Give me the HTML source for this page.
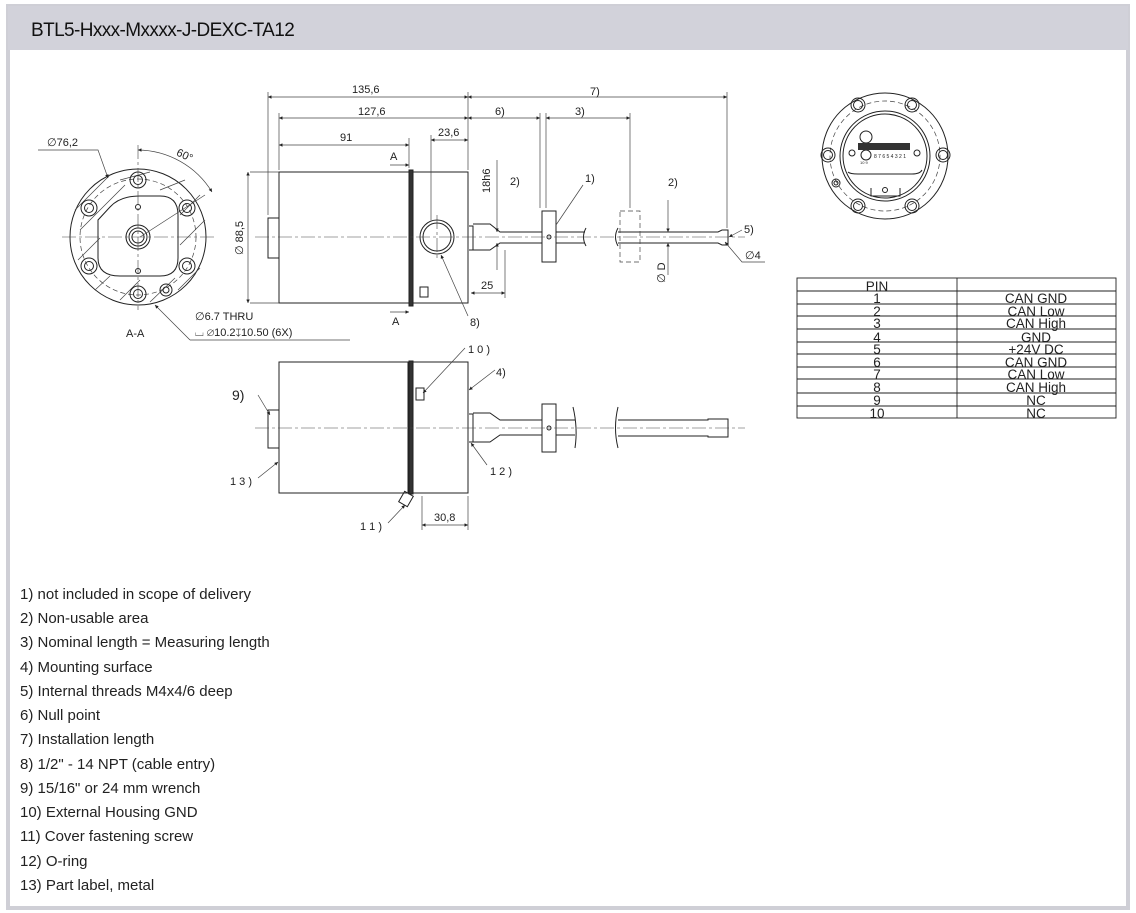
<!DOCTYPE html>
<html><head><meta charset="utf-8"><style>
html,body{margin:0;padding:0;background:#fff;width:1136px;height:913px;overflow:hidden}
svg{display:block}
text{font-family:"Liberation Sans",sans-serif;fill:#222}
.l{stroke:#222;stroke-width:1;fill:none}
.t{stroke:#444;stroke-width:0.7;fill:none}
.c{stroke:#444;stroke-width:0.6;fill:none;stroke-dasharray:14 3 3 3}
.d{stroke:#444;stroke-width:0.7;fill:none;stroke-dasharray:5 3}
.leg{font-size:15px;fill:#444}
.s{font-size:11px}
.tb{font-size:13.5px;fill:#333}
</style></head><body>
<svg width="1136" height="913" viewBox="0 0 1136 913">
<defs>
<marker id="a" viewBox="0 0 10 10" refX="10" refY="5" markerWidth="9" markerHeight="5" orient="auto-start-reverse"><path d="M0,0L10,5L0,10z" fill="#222"/></marker>
</defs>
<rect x="8" y="6" width="1120" height="902" fill="#fff" stroke="#cfcfd6" stroke-width="4"/>
<rect x="8" y="6" width="1120" height="44" fill="#d2d2da"/>
<text x="31" y="36" style="font-size:19px;letter-spacing:-0.6px;fill:#111">BTL5-Hxxx-Mxxxx-J-DEXC-TA12</text>

<g>
<circle cx="138" cy="237" r="68" class="l"/>
<circle cx="138" cy="237" r="58" class="d"/>
<path d="M110,207 Q120,196 140,196 L160,196 Q178,196 178,215 L178,258 Q178,276 160,276 L120,276 Q98,276 98,258 L98,220 Z" class="l"/>
<g class="t">
<line x1="75" y1="210" x2="110" y2="175"/><line x1="80" y1="230" x2="125" y2="185"/><line x1="78" y1="260" x2="100" y2="238"/>
<line x1="95" y1="290" x2="110" y2="276"/><line x1="120" y1="300" x2="140" y2="280"/><line x1="150" y1="302" x2="175" y2="278"/>
<line x1="178" y1="290" x2="200" y2="268"/><line x1="180" y1="245" x2="205" y2="220"/><line x1="180" y1="215" x2="200" y2="195"/>
<line x1="160" y1="190" x2="185" y2="180"/><line x1="120" y1="180" x2="150" y2="172"/>
</g>
<g class="l">
<circle cx="138" cy="180" r="8"/><circle cx="138" cy="180" r="4.5"/>
<circle cx="138" cy="294" r="8"/><circle cx="138" cy="294" r="4.5"/>
<circle cx="89" cy="208" r="8"/><circle cx="89" cy="208" r="4.5"/>
<circle cx="187" cy="208" r="8"/><circle cx="187" cy="208" r="4.5"/>
<circle cx="89" cy="266" r="8"/><circle cx="89" cy="266" r="4.5"/>
<circle cx="187" cy="266" r="8"/><circle cx="187" cy="266" r="4.5"/>
<circle cx="138" cy="237" r="12"/><circle cx="138" cy="237" r="9"/><circle cx="138" cy="237" r="6"/>
<circle cx="138" cy="207" r="2.5"/><circle cx="138" cy="271" r="2.5"/>
<circle cx="166" cy="290" r="6"/><circle cx="166" cy="290" r="3"/>
</g>
<line x1="62" y1="237" x2="215" y2="237" class="c"/>
<line x1="138" y1="145" x2="138" y2="310" class="c"/>
<line x1="140" y1="237" x2="205" y2="195" class="t"/>
<path d="M138,150 A88,88 0 0 1 212,192" class="t" marker-start="url(#a)" marker-end="url(#a)"/>
<text x="175" y="158" class="s" transform="rotate(25 182 158)">60°</text>
<text x="47" y="146" class="s">∅76,2</text>
<polyline points="38,150 98,150 108,178" class="t" marker-end="url(#a)"/>
<text x="126" y="337" class="s">A-A</text>
<polyline points="190,340 155,305" class="t" marker-end="url(#a)"/>
<polyline points="190,340 350,340" class="t"/>
<text x="195" y="320" class="s">∅6.7 THRU</text>
<text x="195" y="336" class="s">⌴  ∅10.2↧10.50  (6X)</text>
</g>

<g class="l">
<rect x="268" y="218" width="11" height="40"/>
<rect x="279" y="172" width="130" height="131"/>
<rect x="409" y="170" width="4" height="136" fill="#333"/>
<rect x="413" y="172" width="55" height="131"/>
<circle cx="437" cy="237" r="17"/><circle cx="437" cy="237" r="14"/>
<rect x="420" y="287" width="8" height="10"/>
<path d="M469,226 L473,226 L473,250 L469,250 M473,224 L490,224 L500,232 L542,232 M473,250 L490,250 L500,243 L542,243 M556,232 L585,232 M556,243 L585,243"/>
<rect x="542" y="211" width="14" height="51"/>
<circle cx="549" cy="237" r="2"/>
<path d="M586,228 Q581,237 586,246 M618,228 Q613,237 618,246"/>
<path d="M618,232 L718,232 L722,230 L728,230 L728,245 L722,245 L718,243 L618,243"/>
</g>
<rect x="620" y="211" width="20" height="51" class="d"/>
<line x1="255" y1="237" x2="745" y2="237" class="c"/>
<line x1="437" y1="215" x2="437" y2="260" class="c"/>
<g class="t">
<line x1="268" y1="92" x2="268" y2="215"/><line x1="468" y1="92" x2="468" y2="170"/><line x1="727" y1="92" x2="727" y2="228"/>
<line x1="279" y1="113" x2="279" y2="170"/><line x1="540" y1="113" x2="540" y2="208"/><line x1="546" y1="113" x2="546" y2="208"/><line x1="630" y1="113" x2="630" y2="208"/>
<line x1="409" y1="138" x2="409" y2="168"/><line x1="431" y1="135" x2="431" y2="220"/>
<line x1="250" y1="172" x2="279" y2="172"/><line x1="250" y1="303" x2="279" y2="303"/>
</g>
<g class="t" marker-start="url(#a)" marker-end="url(#a)">
<line x1="268" y1="97" x2="468" y2="97"/><line x1="468" y1="97" x2="727" y2="97"/>
<line x1="279" y1="118" x2="468" y2="118"/><line x1="468" y1="118" x2="540" y2="118"/><line x1="546" y1="118" x2="630" y2="118"/>
<line x1="279" y1="145" x2="409" y2="145"/><line x1="431" y1="140" x2="468" y2="140"/>
<line x1="248" y1="172" x2="248" y2="303"/>
<line x1="471" y1="293" x2="505" y2="293"/>
</g>
<line x1="505" y1="250" x2="505" y2="298" class="t"/>
<line x1="497" y1="160" x2="497" y2="232" class="t" marker-end="url(#a)"/>
<line x1="497" y1="270" x2="497" y2="243" class="t" marker-end="url(#a)"/>
<line x1="668" y1="200" x2="668" y2="232" class="t" marker-end="url(#a)"/>
<line x1="668" y1="275" x2="668" y2="243" class="t" marker-end="url(#a)"/>
<text x="352" y="93" class="s">135,6</text><text x="590" y="95" class="s">7)</text>
<text x="358" y="115" class="s">127,6</text><text x="495" y="115" class="s">6)</text><text x="575" y="115" class="s">3)</text>
<text x="340" y="141" class="s">91</text><text x="438" y="136" class="s">23,6</text>
<text x="390" y="160" class="s">A</text><text x="392" y="325" class="s">A</text>
<line x1="390" y1="165" x2="409" y2="165" class="t" marker-end="url(#a)"/>
<line x1="390" y1="312" x2="409" y2="312" class="t" marker-end="url(#a)"/>
<text x="243" y="255" class="s" transform="rotate(-90 243 255)">∅ 88,5</text>
<text x="490" y="193" class="s" transform="rotate(-90 490 193)">18h6</text>
<text x="510" y="185" class="s">2)</text><text x="668" y="186" class="s">2)</text>
<text x="585" y="182" class="s">1)</text>
<line x1="583" y1="185" x2="556" y2="225" class="t"/>
<text x="665" y="283" class="s" transform="rotate(-90 665 283)">∅ D</text>
<text x="481" y="289" class="s">25</text>
<text x="470" y="326" class="s">8)</text>
<line x1="468" y1="316" x2="441" y2="255" class="t" marker-end="url(#a)"/>
<text x="744" y="233" class="s">5)</text>
<line x1="742" y1="230" x2="729" y2="237" class="t" marker-end="url(#a)"/>
<polyline points="765,262 742,262 725,242" class="t" marker-end="url(#a)"/>
<text x="745" y="259" class="s">∅4</text>

<g class="l">
<rect x="268" y="410" width="11" height="38"/>
<rect x="279" y="362" width="129" height="131"/>
<rect x="409" y="361" width="4" height="133" fill="#333"/>
<rect x="413" y="362" width="55" height="131"/>
<rect x="416" y="388" width="8" height="12"/>
<path d="M469,414 L473,414 L473,442 L469,442 M473,413 L490,413 L500,420 L542,420 M473,442 L490,442 L500,435 L542,435 M556,420 L575,420 M556,435 L575,435"/>
<rect x="542" y="404" width="14" height="48"/>
<circle cx="549" cy="428" r="2"/>
<path d="M573,407 Q578,428 575,448 M618,407 Q613,428 618,448"/>
<path d="M618,420 L708,420 L708,419 L728,419 L728,437 L708,437 L708,436 L618,436"/>
<rect x="401" y="493" width="10" height="12" transform="rotate(30 406 499)"/>
</g>
<line x1="255" y1="428" x2="745" y2="428" class="c"/>
<line x1="422" y1="496" x2="422" y2="530" class="t"/><line x1="468" y1="496" x2="468" y2="530" class="t"/>
<line x1="422" y1="525" x2="468" y2="525" class="t" marker-start="url(#a)" marker-end="url(#a)"/>
<text x="434" y="521" class="s">30,8</text>
<text x="232" y="400" style="font-size:14px">9)</text>
<line x1="258" y1="395" x2="270" y2="415" class="t" marker-end="url(#a)"/>
<text x="230" y="485" class="s">1 3 )</text>
<line x1="258" y1="478" x2="278" y2="462" class="t" marker-end="url(#a)"/>
<text x="468" y="353" class="s">1 0 )</text>
<line x1="465" y1="348" x2="423" y2="393" class="t" marker-end="url(#a)"/>
<text x="496" y="376" class="s">4)</text>
<line x1="495" y1="370" x2="469" y2="390" class="t" marker-end="url(#a)"/>
<text x="490" y="475" class="s">1 2 )</text>
<line x1="487" y1="465" x2="471" y2="443" class="t" marker-end="url(#a)"/>
<text x="360" y="530" class="s">1 1 )</text>
<line x1="388" y1="523" x2="405" y2="505" class="t" marker-end="url(#a)"/>

<!-- right connector view -->
<g class="l">
<circle cx="885" cy="156" r="63"/>
<circle cx="885" cy="156" r="55" class="d"/>
<circle cx="885" cy="156" r="45"/>
<circle cx="885" cy="156" r="42"/>
<circle cx="858" cy="105" r="7"/><circle cx="858" cy="105" r="4.5"/>
<circle cx="912" cy="105" r="7"/><circle cx="912" cy="105" r="4.5"/>
<circle cx="828" cy="155" r="7"/><circle cx="828" cy="155" r="4.5"/>
<circle cx="943" cy="155" r="7"/><circle cx="943" cy="155" r="4.5"/>
<circle cx="858" cy="206" r="7"/><circle cx="858" cy="206" r="4.5"/>
<circle cx="912" cy="206" r="7"/><circle cx="912" cy="206" r="4.5"/>
<circle cx="866" cy="137" r="6"/>
<circle cx="852" cy="153" r="3"/><circle cx="917" cy="153" r="3"/>
<circle cx="866" cy="155" r="5"/>
<path d="M848,172 Q850,174 858,174 L912,174 Q920,174 922,170"/>
<path d="M871,188 L871,196 L900,196 L900,188"/>
<circle cx="885" cy="190" r="2.5"/>
<circle cx="836" cy="183" r="4"/><circle cx="836" cy="183" r="2"/>
</g>
<rect x="858" y="143" width="52" height="7" fill="#333"/>
<text x="874" y="158" style="font-size:5px">8 7 6 5 4 3 2 1</text>
<text x="860" y="164" style="font-size:4px">10 9</text>

<g class="l" style="stroke-width:0.9">
<rect x="797" y="278" width="319" height="140"/>
<line x1="957" y1="278" x2="957" y2="418"/>
<line x1="797" y1="291" x2="1116" y2="291"/><line x1="797" y1="304" x2="1116" y2="304"/>
<line x1="797" y1="316" x2="1116" y2="316"/><line x1="797" y1="329" x2="1116" y2="329"/>
<line x1="797" y1="342" x2="1116" y2="342"/><line x1="797" y1="354" x2="1116" y2="354"/>
<line x1="797" y1="367" x2="1116" y2="367"/><line x1="797" y1="379" x2="1116" y2="379"/>
<line x1="797" y1="393" x2="1116" y2="393"/><line x1="797" y1="406" x2="1116" y2="406"/>
</g>
<g class="tb" text-anchor="middle">
<text x="877" y="291">PIN</text>
<text x="877" y="303">1</text><text x="1036" y="303">CAN GND</text>
<text x="877" y="316">2</text><text x="1036" y="316">CAN Low</text>
<text x="877" y="328">3</text><text x="1036" y="328">CAN High</text>
<text x="877" y="342">4</text><text x="1036" y="342">GND</text>
<text x="877" y="354">5</text><text x="1036" y="354">+24V DC</text>
<text x="877" y="367">6</text><text x="1036" y="367">CAN GND</text>
<text x="877" y="379">7</text><text x="1036" y="379">CAN Low</text>
<text x="877" y="392">8</text><text x="1036" y="392">CAN High</text>
<text x="877" y="405">9</text><text x="1036" y="405">NC</text>
<text x="877" y="418">10</text><text x="1036" y="418">NC</text>
</g>

<g class="leg">
<text x="20" y="599">1) not included in scope of delivery</text>
<text x="20" y="623">2) Non-usable area</text>
<text x="20" y="647">3) Nominal length = Measuring length</text>
<text x="20" y="672">4) Mounting surface</text>
<text x="20" y="696">5) Internal threads M4x4/6 deep</text>
<text x="20" y="720">6) Null point</text>
<text x="20" y="744">7) Installation length</text>
<text x="20" y="769">8) 1/2" - 14 NPT (cable entry)</text>
<text x="20" y="793">9) 15/16" or 24 mm wrench</text>
<text x="20" y="817">10) External Housing GND</text>
<text x="20" y="841">11) Cover fastening screw</text>
<text x="20" y="866">12) O-ring</text>
<text x="20" y="890">13) Part label, metal</text>
</g>
</svg>
</body></html>
